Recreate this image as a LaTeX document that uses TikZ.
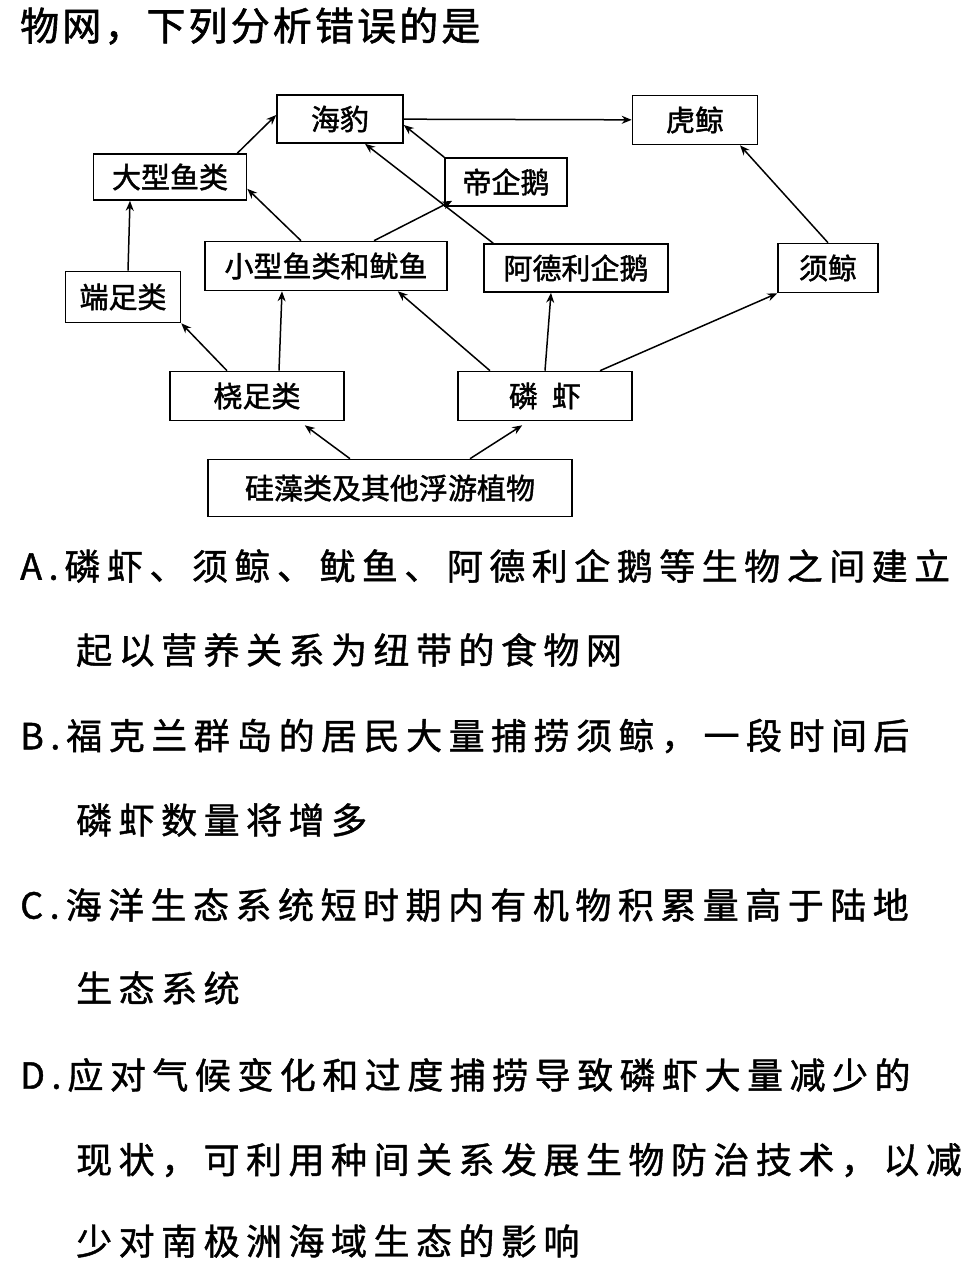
\documentclass[tikz,border=0pt]{standalone}
\usepackage{fontspec}
\setmainfont{Noto Sans CJK SC}[FakeBold=1.2]
\newfontfamily\opt[LetterSpace=18,FakeBold=1.2]{Noto Sans CJK SC}
\newfontfamily\ttl[LetterSpace=8,FakeBold=1.5]{Noto Sans CJK SC}
\newfontfamily\bxf[FakeBold=1.5]{Noto Sans CJK SC}
\usetikzlibrary{arrows.meta,calc}
\tikzset{bx/.style={draw,line width=1.6pt,inner sep=0pt,font=\bxf\fontsize{29}{30}\selectfont},
ar/.style={line width=1.5pt,-{Stealth[length=10pt,width=8pt]}},
ln/.style={anchor=west,inner sep=0pt,font=\opt\fontsize{36}{40}\selectfont}}
\begin{document}
\begin{tikzpicture}[x=1pt,y=-1pt]
\useasboundingbox[fill=white] (0,0) rectangle (976,1262);
\node[anchor=west,inner sep=0pt,font=\ttl\fontsize{39}{42}\selectfont] (t) at (20,26) {物网，下列分析错误的是};
\node[bx,minimum width=126pt,minimum height=48pt] (hb) at (340,119) {海豹};
\node[bx,minimum width=125pt,minimum height=49pt] (hj) at (695,120) {虎鲸};
\node[bx,minimum width=153pt,minimum height=46pt] (dx) at (170,177) {大型鱼类};
\node[bx,minimum width=122pt,minimum height=48pt] (dq) at (506,182) {帝企鹅};
\node[bx,minimum width=242pt,minimum height=49pt] (xx) at (326,266) {小型鱼类和鱿鱼};
\node[bx,minimum width=184pt,minimum height=48pt] (ad) at (576,268) {阿德利企鹅};
\node[bx,minimum width=100pt,minimum height=49pt] (xj) at (828,268) {须鲸};
\node[bx,minimum width=115pt,minimum height=51pt] (dz) at (123,297) {端足类};
\node[bx,minimum width=174pt,minimum height=49pt] (rz) at (257,396) {桡足类};
\node[bx,minimum width=174pt,minimum height=49pt] (lx) at (545,396) {磷\hspace{14pt}虾};
\node[bx,minimum width=364pt,minimum height=57pt] (gz) at (390,488) {硅藻类及其他浮游植物};
\draw[ar] (hb) -- (hj);
\draw[ar] ($(dx.north east)+(-10,0)$) -- ($(hb.west)+(0,-4)$);
\draw[ar] (dq.north west) -- ($(hb.east)+(0,6)$);
\draw[ar] ($(ad.north west)+(10,0)$) -- ($(hb.south)+(25,0)$);
\draw[ar] (xj.north) -- ($(hj.south)+(45,0)$);
\draw[ar] ($(dz.north)+(5,0)$) -- ($(dx.south)+(-40,0)$);
\draw[ar] ($(xx.north)+(-25,0)$) -- ($(dx.south east)+(0,-12)$);
\draw[ar] ($(xx.north)+(48,0)$) -- ($(dq.south west)+(8,-6)$);
\draw[ar] ($(rz.north)+(-30,0)$) -- (dz.south east);
\draw[ar] ($(rz.north)+(22,0)$) -- ($(xx.south)+(-44,0)$);
\draw[ar] ($(lx.north)+(-55,0)$) -- ($(xx.south east)+(-50,0)$);
\draw[ar] (lx.north) -- ($(ad.south)+(-25,0)$);
\draw[ar] ($(lx.north)+(55,0)$) -- (xj.south west);
\draw[ar] ($(gz.north)+(-40,0)$) -- ($(rz.south east)+(-40,4)$);
\draw[ar] ($(gz.north)+(80,0)$) -- ($(lx.south west)+(65,4)$);
\node[ln] (a1) at (20,566) {A.\,磷虾、须鲸、鱿鱼、阿德利企鹅等生物之间建立};
\node[ln] (a2) at (76,650) {起以营养关系为纽带的食物网};
\node[ln] (b1) at (20,736) {B.\,福克兰群岛的居民大量捕捞须鲸，一段时间后};
\node[ln] (b2) at (76,820) {磷虾数量将增多};
\node[ln] (c1) at (20,905) {C.\,海洋生态系统短时期内有机物积累量高于陆地};
\node[ln] (c2) at (76,988) {生态系统};
\node[ln] (d1) at (20,1075) {D.\,应对气候变化和过度捕捞导致磷虾大量减少的};
\node[ln] (d2) at (76,1160) {现状，可利用种间关系发展生物防治技术，以减};
\node[ln] (d3) at (76,1241) {少对南极洲海域生态的影响};
\end{tikzpicture}
\end{document}
